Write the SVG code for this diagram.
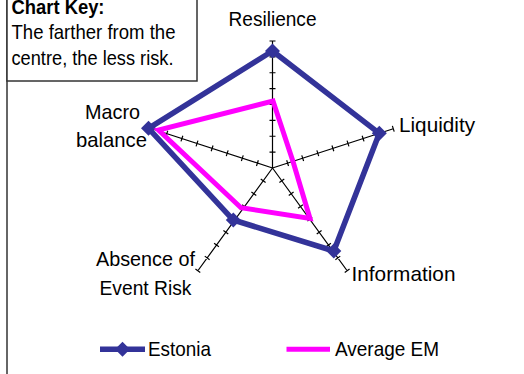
<svg xmlns="http://www.w3.org/2000/svg" xmlns:xlink="http://www.w3.org/1999/xlink" width="524" height="374" viewBox="0 0 524 374">
<style>
text{font-family:"Liberation Sans",Arial,sans-serif;font-size:21px;fill:#000}
.b{font-weight:bold}
.axis{fill:none;stroke:#000;stroke-width:1.2}
.est{fill:none;stroke:#333399;stroke-width:5.5;stroke-linejoin:miter}
.avg{fill:none;stroke:#FF00FF;stroke-width:5;stroke-linejoin:miter}
.mk{fill:#333399}
</style>
<defs>
<path id="ax" class="axis" d="M0 0V-127M-3 -15.875H3M-3 -31.75H3M-3 -47.625H3M-3 -63.5H3M-3 -79.375H3M-3 -95.25H3M-3 -111.125H3M-3 -127H3"/>
<path id="dm" d="M0 -7.5L7.5 0L0 7.5L-7.5 0Z"/>
</defs>
<rect width="524" height="374" fill="#fff"/>
<line x1="7" y1="0" x2="7" y2="374" stroke="#333" stroke-width="1.5"/>
<g id="key">
<rect x="7" y="-10" width="190" height="91" fill="#fff" stroke="#333" stroke-width="1.5"/>
<text class="b" x="11.5" y="14" textLength="93" lengthAdjust="spacingAndGlyphs">Chart Key:</text>
<text x="11.5" y="38.5" textLength="164" lengthAdjust="spacingAndGlyphs">The farther from the</text>
<text x="11.5" y="65" textLength="162" lengthAdjust="spacingAndGlyphs">centre, the less risk.</text>
</g>
<g id="axes">
<use xlink:href="#ax" transform="translate(272.5 168)"/>
<use xlink:href="#ax" transform="translate(272.5 168) rotate(72)"/>
<use xlink:href="#ax" transform="translate(272.5 168) rotate(144)"/>
<use xlink:href="#ax" transform="translate(272.5 168) rotate(216)"/>
<use xlink:href="#ax" transform="translate(272.5 168) rotate(288)"/>
</g>
<g id="labels">
<text x="272.5" y="26" text-anchor="middle" textLength="88" lengthAdjust="spacingAndGlyphs">Resilience</text>
<text x="399" y="132" textLength="76" lengthAdjust="spacingAndGlyphs">Liquidity</text>
<text x="351.5" y="280.5" textLength="104" lengthAdjust="spacingAndGlyphs">Information</text>
<text x="145.5" y="266" text-anchor="middle" textLength="99" lengthAdjust="spacingAndGlyphs">Absence of</text>
<text x="145.5" y="295" text-anchor="middle" textLength="92" lengthAdjust="spacingAndGlyphs">Event Risk</text>
<text x="112.5" y="119" text-anchor="middle" textLength="55" lengthAdjust="spacingAndGlyphs">Macro</text>
<text x="111.5" y="146.5" text-anchor="middle" textLength="71" lengthAdjust="spacingAndGlyphs">balance</text>
</g>
<g id="connectors">
<g id="series-estonia">
<polygon class="est" points="272.5,51 379.3,133.3 333.8,251 233.3,220 148.5,128.3"/>
<use xlink:href="#dm" class="mk" x="272.5" y="51"/>
<use xlink:href="#dm" class="mk" x="379.3" y="133.3"/>
<use xlink:href="#dm" class="mk" x="333.8" y="251"/>
<use xlink:href="#dm" class="mk" x="233.3" y="220"/>
<use xlink:href="#dm" class="mk" x="148.5" y="128.3"/>
</g>
<g id="series-average-em">
<polygon class="avg" points="273,101 293,161.5 310,218.5 241,207.7 158.5,130"/>
</g>
</g>
<g id="legend">
<line x1="100" y1="349.3" x2="145" y2="349.3" stroke="#333399" stroke-width="5.5"/>
<use xlink:href="#dm" class="mk" x="122.5" y="349.3"/>
<text x="148" y="355.5" textLength="63" lengthAdjust="spacingAndGlyphs">Estonia</text>
<line x1="286.5" y1="349.3" x2="330" y2="349.3" stroke="#FF00FF" stroke-width="5"/>
<text x="335" y="355.5" textLength="104" lengthAdjust="spacingAndGlyphs">Average EM</text>
</g>
</svg>
